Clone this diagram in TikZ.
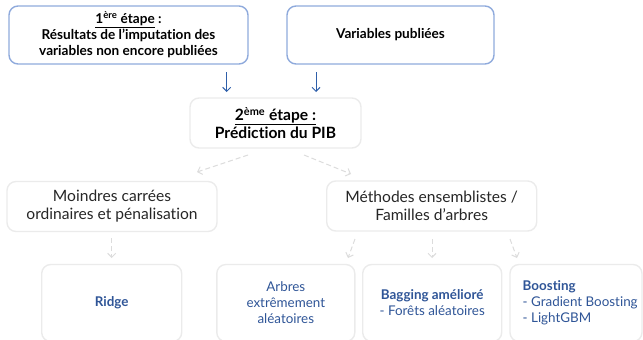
\documentclass[tikz,border=0pt]{standalone}
\usepackage{fontspec}
\setmainfont{Lato}[Ligatures={NoCommon}]
\usetikzlibrary{arrows.meta}
\definecolor{topblue}{HTML}{8FAADC}
\definecolor{arrblue}{HTML}{2E5FAA}
\definecolor{txtblue}{HTML}{2F5597}
\definecolor{lgray}{HTML}{EBEBEB}
\definecolor{dgray}{HTML}{DCDCDC}
\definecolor{midtxt}{HTML}{262626}
\tikzset{
  topbox/.style={draw=topblue, line width=1.4pt, rounded corners=9pt, align=center, font=\fontsize{13.6}{16}\selectfont\bfseries, text=black, inner sep=0pt},
  graybox/.style={draw=lgray, line width=1.4pt, rounded corners=9pt, align=center, inner sep=0pt},
  midbox/.style={graybox, font=\fontsize{15.6}{18}\selectfont, text=midtxt},
  botfont/.style={font=\fontsize{13.4}{16}\selectfont, text=txtblue},
  botbox/.style={graybox, botfont},
  bluearrow/.style={draw=arrblue, line width=1pt, -{Straight Barb[length=4pt,width=8pt]}},
  grayarrow/.style={draw=dgray, line width=1pt, dashed, dash pattern=on 5pt off 3pt, -{Straight Barb[length=4pt,width=8pt]}}
}
\begin{document}
\begin{tikzpicture}[x=1pt,y=-1pt]
\useasboundingbox (0,0) rectangle (643,340);
\clip (0,0) rectangle (643,340);
\node[topbox, minimum width=239pt, minimum height=58pt] (b1) at (128.5,35)
  {\underline{1\textsuperscript{ère} étape} :\\Résultats de l’imputation des\\variables non encore publiées};
\node[topbox, minimum width=207pt, minimum height=58pt] (b2) at (390.5,35) {Variables publiées};
\node[graybox, font=\fontsize{15.6}{18}\selectfont\bfseries, text=black, minimum width=171pt, minimum height=50pt] (pib) at (275.5,123)
  {\underline{2\textsuperscript{ème} étape :}\\Prédiction du PIB};
\node[midbox, minimum width=210pt, minimum height=50pt] (mco) at (112,206.5)
  {Moindres carrées\\ordinaires et pénalisation};
\node[midbox, minimum width=210pt, minimum height=50pt] (ens) at (431.7,206)
  {Méthodes ensemblistes /\\Familles d’arbres};
\node[botbox, minimum width=140pt, minimum height=77pt] (ridge) at (111.7,303) {\bfseries Ridge};
\node[botbox, minimum width=138pt, minimum height=77pt] (arb) at (285.8,303) {Arbres\\extrêmement\\aléatoires};
\node[botbox, minimum width=139pt, minimum height=77pt] (bag) at (432.2,303) {\textbf{Bagging amélioré}\\- Forêts aléatoires};
\node[botbox, minimum width=132pt, minimum height=77pt] (boo) at (576,303) {};
\node[botfont, anchor=west, align=left, inner sep=0pt] (boot) at (522.5,303) {\textbf{Boosting}\\- Gradient Boosting\\- LightGBM};
% connectors
\coordinate (a1s) at (226.7,72);
\coordinate (a1e) at (226.7,92);
\coordinate (a2s) at (316,72);
\coordinate (a2e) at (316,92);
\draw[bluearrow] (a1s) -- (a1e);
\draw[bluearrow] (a2s) -- (a2e);
\coordinate (d1s) at (248,155);
\coordinate (d1e) at (197,172);
\coordinate (d2s) at (304,155);
\coordinate (d2e) at (351,174);
\draw[grayarrow] (d1s) -- (d1e);
\draw[grayarrow] (d2s) -- (d2e);
\coordinate (m1s) at (111.7,238);
\coordinate (m1e) at (111.7,258);
\draw[grayarrow] (m1s) -- (m1e);
\coordinate (e1s) at (355,239);
\coordinate (e1e) at (348,258);
\coordinate (e2s) at (432,239);
\coordinate (e2e) at (432,258);
\coordinate (e3s) at (510,239);
\coordinate (e3e) at (517,258);
\draw[grayarrow] (e1s) -- (e1e);
\draw[grayarrow] (e2s) -- (e2e);
\draw[grayarrow] (e3s) -- (e3e);
\end{tikzpicture}
\end{document}
